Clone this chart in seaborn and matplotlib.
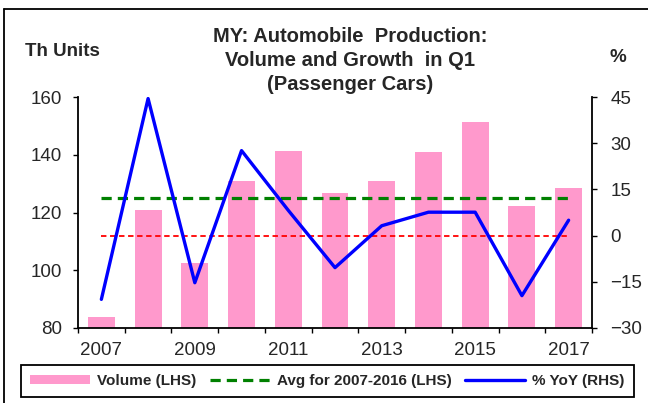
import matplotlib
matplotlib.use("Agg")
import matplotlib.pyplot as plt
import seaborn as sns
import pandas as pd
import numpy as np
from matplotlib.lines import Line2D
from matplotlib.patches import Patch

# Q1 passenger car production, Malaysia
years = ["2007", "2008", "2009", "2010", "2011", "2012",
         "2013", "2014", "2015", "2016", "2017"]
volume = [83.7, 120.7, 102.5, 130.8, 141.4, 126.7, 130.8, 140.8, 151.5, 122.1, 128.4]
yoy = [-20.7, 44.5, -15.3, 27.6, 8.2, -10.4, 3.2, 7.6, 7.6, -19.5, 5.0]
avg_2007_2016 = 125.0
left_ticks = [80, 100, 120, 140, 160]
right_ticks = [-30, -15, 0, 15, 30, 45]
title_lines = ["MY: Automobile  Production:", "Volume and Growth  in Q1", "(Passenger Cars)"]

PINK = "#FF99CC"
BLUE = "#0000FF"
GREEN = "#008000"
RED = "#FF0000"

sns.set_theme(style="white")
plt.rcParams['font.family'] = ['Liberation Sans', 'DejaVu Sans']

W, H = 648, 403
fig = plt.figure(figsize=(6.48, 4.03), dpi=100)
ax = fig.add_axes([78 / W, 1 - 328 / H, 514 / W, 231 / H])

df = pd.DataFrame({"year": years, "volume": volume, "yoy": yoy})
df["pos"] = np.arange(len(df))
df["avg"] = avg_2007_2016
df["zero"] = 0.0

sns.barplot(data=df, x="year", y="volume", color=PINK, saturation=1,
            width=0.575, linewidth=0, ax=ax, zorder=1)
sns.lineplot(data=df, x="pos", y="avg", color=GREEN, lw=2.3, ax=ax,
             dashes=False, zorder=3)
ax.lines[-1].set_dashes((3.2, 1.9))

ax.set_ylim(80, 160)
ax.set_yticks(left_ticks)
ax.set_xlim(-0.5, len(years) - 0.5)
ax.set_xlabel("")
ax.set_ylabel("")

# x ticks: marks between categories, labels on every other year
ax.set_xticks(np.arange(-0.5, len(years)), labels=[""] * (len(years) + 1))
ax.set_xticks(np.arange(0, len(years), 2), labels=years[::2], minor=True)
ax.tick_params(axis="x", which="major", direction="out", length=3.6, width=1,
               color="black", bottom=True)
ax.tick_params(axis="x", which="minor", length=0, pad=10, labelsize=13.5)
ax.tick_params(axis="y", direction="out", length=3.6, width=1, color="black",
               left=True, pad=8, labelsize=13.5)

ax2 = ax.twinx()
sns.lineplot(data=df, x="pos", y="zero", color=RED, lw=1.3, ax=ax2, zorder=2)
ax2.lines[-1].set_dashes((3, 2))
sns.lineplot(data=df, x="pos", y="yoy", color=BLUE, lw=2.4, ax=ax2, sort=False,
             zorder=4)
ax2.set_ylim(-30, 45)
ax2.set_yticks(right_ticks)
ax2.set_ylabel("")
ax2.tick_params(axis="y", direction="out", length=3.6, width=1, color="black",
                right=True, pad=9.5, labelsize=13.5)
ax2.grid(False)
ax.grid(False)

for a in (ax, ax2):
    for side in ("left", "right", "bottom"):
        a.spines[side].set_color("black")
        a.spines[side].set_linewidth(1.3)
    a.spines["top"].set_visible(False)
ax.spines["right"].set_visible(False)
ax2.spines["left"].set_visible(False)
ax2.spines["bottom"].set_visible(False)

# titles and axis unit labels
for i, line in enumerate(title_lines):
    fig.text(350 / W, 1 - (37 + 24 * i) / H, line, ha="center", va="center",
             fontsize=14.5, fontweight="bold")
fig.text(62 / W, 1 - 52 / H, "Th Units", ha="center", va="center",
         fontsize=13.5, fontweight="bold")
fig.text(618 / W, 1 - 57 / H, "%", ha="center", va="center",
         fontsize=13.5, fontweight="bold")

handles = [
    Patch(facecolor=PINK, edgecolor="none"),
    Line2D([], [], color=GREEN, lw=2.3, dashes=(3.2, 1.9)),
    Line2D([], [], color=BLUE, lw=2.4),
]
leg = fig.legend(handles, ["Volume (LHS)", "Avg for 2007-2016 (LHS)", "% YoY (RHS)"],
                 ncol=3, loc="lower left", mode="expand",
                 bbox_to_anchor=(21 / W, 1 - 397 / H, 613 / W, 37 / H),
                 borderaxespad=0, frameon=True, fancybox=False,
                 edgecolor="black", framealpha=1,
                 prop={"weight": "bold", "size": 11},
                 handlelength=3.9, handleheight=0.6, handletextpad=0.5,
                 columnspacing=0.5, borderpad=0.6)
leg.get_frame().set_linewidth(1.3)

# outer chart border (left and top edges)
fig.add_artist(Line2D([4 / W, 4 / W], [0, 1 - 9 / H], color="black", lw=1.3,
                      transform=fig.transFigure))
fig.add_artist(Line2D([4 / W, 1], [1 - 9 / H, 1 - 9 / H], color="black", lw=1.3,
                      transform=fig.transFigure))

fig.savefig("out.png", dpi=100)
